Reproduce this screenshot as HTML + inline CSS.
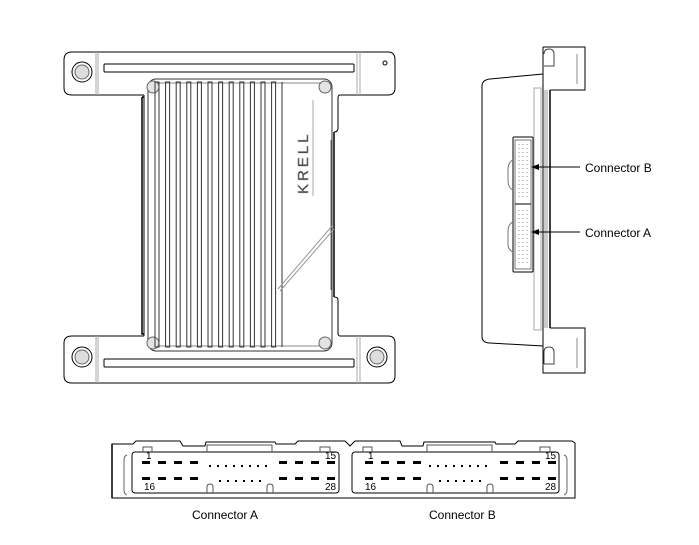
<!DOCTYPE html>
<html><head><meta charset="utf-8"><style>
html,body{margin:0;padding:0;background:#fff}
svg{display:block}
text{font-family:"Liberation Sans",sans-serif;fill:#000}
</style></head><body>
<svg width="699" height="545" viewBox="0 0 699 545" xmlns="http://www.w3.org/2000/svg">
<g fill="none" stroke="#000" stroke-width="1">
<path d="M72,52 H388 Q395,52 395,60 V88 Q395,95 388,95 H340 Q338,95 338,98 V128 Q338,132 334,132"/>
<path d="M144,95 H72 Q64,95 64,88 V60 Q64,52 72,52"/>
<path d="M72,383 H388 Q395,383 395,376 V343 Q395,336 388,336 H340 Q338,336 338,333 V300 Q338,297 334,297"/>
<path d="M144,336 H72 Q64,336 64,343 V376 Q64,383 72,383"/>
<path d="M144,95 V336" />
<path d="M142,97 H144 M142,97 V334 H144" stroke-width="1.5"/>
<path d="M334,132 V297" stroke-width="1.5"/>
<path d="M331,140 V290" stroke="#666"/>
<rect x="104" y="64" width="250" height="8" rx="1"/>
<rect x="104" y="359" width="250" height="8" rx="1"/>
<rect x="148" y="79" width="184" height="272" rx="8" stroke="#333"/>
<path d="M150,83 H330 M150,346 H330" stroke="#888"/>
<g fill="#e4e4e4" stroke="#666">
<circle cx="153" cy="87" r="6"/><circle cx="325" cy="87" r="6"/>
<circle cx="153" cy="343" r="6"/><circle cx="325" cy="343" r="6"/>
</g>
<g stroke="#333">
<rect x="155" y="82" width="4" height="265"/><rect x="165.6" y="82" width="4" height="265"/><rect x="176.2" y="82" width="4" height="265"/><rect x="186.8" y="82" width="4" height="265"/><rect x="197.4" y="82" width="4" height="265"/><rect x="208" y="82" width="4" height="265"/><rect x="218.6" y="82" width="4" height="265"/><rect x="229.2" y="82" width="4" height="265"/><rect x="239.8" y="82" width="4" height="265"/><rect x="250.4" y="82" width="4" height="265"/><rect x="261" y="82" width="4" height="265"/><rect x="271.6" y="82" width="4" height="265"/>
<path d="M282,82V347"/>
</g>
<path d="M278,289 L332,226 M280,291 L334,229" stroke="#999"/>
<path d="M313,100 V196" stroke="#aaa"/>
<circle cx="82" cy="72" r="10"/><circle cx="82" cy="72" r="7" fill="#ddd" stroke="#666"/>
<circle cx="82" cy="357" r="10"/><circle cx="82" cy="357" r="7" fill="#ddd" stroke="#666"/>
<circle cx="377" cy="357" r="10"/><circle cx="377" cy="357" r="7" fill="#ddd" stroke="#666"/>
<circle cx="385" cy="63" r="2"/>
<g stroke="#aaa"><path d="M96,52V95 M98,52V95 M357,52V95 M360,52V95 M96,336V383 M98,336V383 M357,336V383 M360,336V383"/></g>
</g>
<text x="308" y="194" font-size="15" transform="rotate(-90 308 194)" fill="#fff" stroke="#999" stroke-width="0.7" letter-spacing="3">KRELL</text>

<!-- SIDE VIEW -->
<g fill="none" stroke="#000">
<path d="M543,47 H585 V90 H550 M543,47 V74 L490,79 Q482,80 482,86 V336 Q482,343 490,343 L543,346 V373 H585 V328 H550"/>
<path d="M550,90 V328" stroke-width="1.5"/>
<path d="M543,74 V346"/>
<path d="M545,90 V328 M547,90 V328" stroke="#999"/>
<path d="M534,88 H541 V330 H534 Z" stroke="#aaa"/>
<path d="M544,54 Q544,49 549,49 Q554,49 554,54 V66 H544" stroke="#444"/>
<path d="M544,364 V352 Q544,347 549,347 Q554,347 554,352 V364 H544" stroke="#444"/>
<path d="M577,54V84 M577,338V368" stroke="#888"/>
<rect x="513" y="137" width="20" height="135" rx="1"/>
<rect x="515" y="140" width="16" height="129" stroke="#777"/>
<path d="M515,204 H531" />
<path d="M513,160 Q508,162 508,170 V180 Q508,188 513,190 M513,222 Q508,224 508,232 V244 Q508,250 513,252" stroke="#777"/>
<g stroke="#888" stroke-dasharray="1 3">
<path d="M519,144V200 M523,144V200 M527,144V200 M519,210V266 M523,210V266 M527,210V266"/>
</g>
<path d="M580,167 H536 M580,232 H536"/>
</g>
<path d="M531,167 L539,164 L539,170 Z M531,232 L539,229 L539,235 Z" fill="#000"/>
<text x="585" y="172" font-size="12">Connector B</text>
<text x="585" y="237" font-size="12">Connector A</text>

<!-- CONNECTOR FACE -->
<g fill="none" stroke="#000">
<path d="M112,444 H133 L136,441 H180 L183,446 H205 L206,442 H275 L276,444 H295 L298,441 H345 L350,446 L355,441 H400 L402,446 H423 L424,442 H495 L496,444 H515 L518,441 H572 L575,443 V498 H112 Z"/>
<path d="M112,498 V444" stroke-width="1.5"/>
<rect x="132" y="452" width="207" height="41" rx="3"/>
<rect x="352" y="452" width="207" height="41" rx="3"/>
<path d="M127,455 Q124,456 124,460 V490 Q124,494 127,495 M564,455 Q567,456 567,460 V490 Q567,494 564,495" stroke="#666"/>
<g stroke="#555">
<path d="M143,452 V447 H152 V452 M207,452 V445 H272 V452 M320,452 V447 H330 V452 M363,452 V447 H372 V452 M427,452 V445 H492 V452 M540,452 V447 H550 V452"/>
<path d="M207,493 V487 Q207,484 210,484 Q213,484 213,487 V493 M267,493 V487 Q267,484 270,484 Q273,484 273,487 V493 M427,493 V487 Q427,484 430,484 Q433,484 433,487 V493 M487,493 V487 Q487,484 490,484 Q493,484 493,487 V493"/>
</g>
</g>
<g fill="#000">
<rect x="142" y="461" width="8" height="3"/><rect x="158" y="461" width="8" height="3"/><rect x="174" y="461" width="8" height="3"/><rect x="190" y="461" width="8" height="3"/>
<rect x="279" y="461" width="8" height="3"/><rect x="295" y="461" width="8" height="3"/><rect x="311" y="461" width="8" height="3"/><rect x="327" y="461" width="8" height="3"/>
<rect x="209" y="465" width="2" height="2"/><rect x="217" y="465" width="2" height="2"/><rect x="225" y="465" width="2" height="2"/><rect x="233" y="465" width="2" height="2"/><rect x="241" y="465" width="2" height="2"/><rect x="249" y="465" width="2" height="2"/><rect x="257" y="465" width="2" height="2"/><rect x="265" y="465" width="2" height="2"/>
<rect x="142" y="477" width="8" height="3"/><rect x="158" y="477" width="8" height="3"/><rect x="174" y="477" width="8" height="3"/><rect x="190" y="477" width="8" height="3"/>
<rect x="279" y="477" width="8" height="3"/><rect x="295" y="477" width="8" height="3"/><rect x="311" y="477" width="8" height="3"/><rect x="327" y="477" width="8" height="3"/>
<rect x="219" y="480" width="2" height="2"/><rect x="227" y="480" width="2" height="2"/><rect x="235" y="480" width="2" height="2"/><rect x="243" y="480" width="2" height="2"/><rect x="251" y="480" width="2" height="2"/><rect x="259" y="480" width="2" height="2"/>
<rect x="365" y="461" width="8" height="3"/><rect x="381" y="461" width="8" height="3"/><rect x="397" y="461" width="8" height="3"/><rect x="413" y="461" width="8" height="3"/>
<rect x="500" y="461" width="8" height="3"/><rect x="516" y="461" width="8" height="3"/><rect x="532" y="461" width="8" height="3"/><rect x="548" y="461" width="8" height="3"/>
<rect x="429" y="465" width="2" height="2"/><rect x="437" y="465" width="2" height="2"/><rect x="445" y="465" width="2" height="2"/><rect x="453" y="465" width="2" height="2"/><rect x="461" y="465" width="2" height="2"/><rect x="469" y="465" width="2" height="2"/><rect x="477" y="465" width="2" height="2"/><rect x="485" y="465" width="2" height="2"/>
<rect x="365" y="477" width="8" height="3"/><rect x="381" y="477" width="8" height="3"/><rect x="397" y="477" width="8" height="3"/><rect x="413" y="477" width="8" height="3"/>
<rect x="500" y="477" width="8" height="3"/><rect x="516" y="477" width="8" height="3"/><rect x="532" y="477" width="8" height="3"/><rect x="548" y="477" width="8" height="3"/>
<rect x="439" y="480" width="2" height="2"/><rect x="447" y="480" width="2" height="2"/><rect x="455" y="480" width="2" height="2"/><rect x="463" y="480" width="2" height="2"/><rect x="471" y="480" width="2" height="2"/><rect x="479" y="480" width="2" height="2"/>
</g>
<g font-size="10">
<text x="146" y="459">1</text><text x="325" y="459">15</text>
<text x="144" y="490">16</text><text x="325" y="490">28</text>
<text x="368" y="459">1</text><text x="545" y="459">15</text>
<text x="365" y="490">16</text><text x="545" y="490">28</text>
</g>
<text x="192" y="519" font-size="12">Connector A</text>
<text x="429" y="519" font-size="12">Connector B</text>
</svg>
</body></html>
